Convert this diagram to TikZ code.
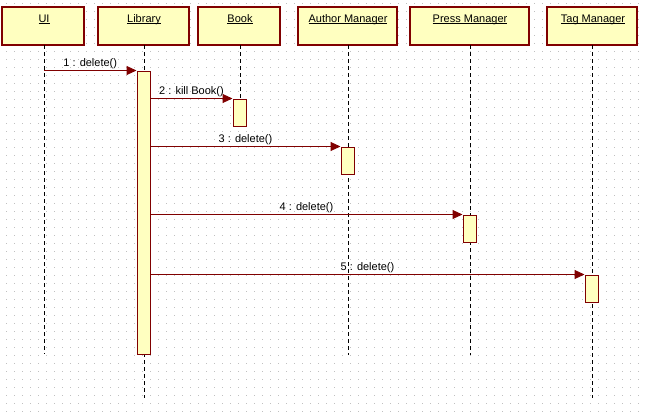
\documentclass[tikz,border=0pt]{standalone}
\usepackage{fontspec}
\setmainfont{Liberation Sans}
\usetikzlibrary{arrows.meta}
\definecolor{umlred}{HTML}{800000}
\definecolor{umlfill}{HTML}{FFFFC0}
\definecolor{griddot}{HTML}{C0C0C0}
% underline at a fixed depth, crossing descenders
\newcommand{\ulname}[1]{\setbox0\hbox{#1}\rlap{\rule[-2pt]{\wd0}{1pt}}\box0}
\begin{document}
\begin{tikzpicture}[x=1pt,y=-1pt,
  font=\fontsize{11}{13}\selectfont,
  objbox/.style={draw=umlred,fill=umlfill,line width=1.3pt,rectangle,inner sep=0pt,minimum height=38pt},
  objlabel/.style={anchor=base,inner sep=0pt},
  lifeline/.style={black,line width=1pt,dash pattern=on 4pt off 3pt},
  act/.style={draw=umlred,fill=umlfill,line width=1pt,rectangle,inner sep=0pt,minimum width=13pt},
  msg/.style={umlred,line width=1pt,-{Triangle[length=10pt,width=9pt]}},
  msglabel/.style={midway,above,inner sep=1.5pt,text=black}]
\useasboundingbox (0,0) rectangle (645,415);
\fill[white] (0,0) rectangle (645,415);
% dotted background grid
\foreach \gx in {6,14,...,640}{
  \foreach \gy in {3,11,...,411}{
    \fill[griddot] (\gx,\gy) rectangle +(1,1);
  }
}
% objects
\node[objbox,minimum width=82pt] (ui) at (43,26) {};
\node[objbox,minimum width=91pt] (lib) at (143.5,26) {};
\node[objbox,minimum width=82pt] (book) at (239,26) {};
\node[objbox,minimum width=99pt] (author) at (347.5,26) {};
\node[objbox,minimum width=119pt] (press) at (469.5,26) {};
\node[objbox,minimum width=90pt] (tag) at (592,26) {};
\node[objlabel] (uit) at (44,22) {\ulname{UI}};
\node[objlabel] (libt) at (144,22) {\ulname{Library}};
\node[objlabel] (bookt) at (240,22) {\ulname{Book}};
\node[objlabel] (authort) at (348,22) {\ulname{Author Manager}};
\node[objlabel] (presst) at (470,22) {\ulname{Press Manager}};
\node[objlabel] (tagt) at (593,22) {\ulname{Tag Manager}};
% lifeline ends
\coordinate (uiend) at (44,354);
\coordinate (libend) at (144,398);
\coordinate (bookend) at (240,126);
\coordinate (authorend) at (348,355);
\coordinate (pressend) at (470,355);
\coordinate (tagend) at (592,398);
\draw[lifeline] (44,45) -- (uiend);
\draw[lifeline] (144,45) -- (libend);
\draw[lifeline] (240,45) -- (bookend);
\draw[lifeline] (348,45) -- (authorend);
\draw[lifeline] (470,45) -- (pressend);
\draw[lifeline] (592,45) -- (tagend);
% activations
\node[act,minimum height=283pt] (libact) at (143.5,212.5) {};
\node[act,minimum height=27pt] (bookact) at (239.5,112.5) {};
\node[act,minimum height=27pt] (authoract) at (347.5,160.5) {};
\node[act,minimum height=27pt] (pressact) at (469.5,228.5) {};
\node[act,minimum height=27pt] (tagact) at (591.5,288.5) {};
% messages
\draw[msg] (uiend |- libact.north) -- node[msglabel]{1 : delete()} (libact.north west);
\draw[msg] (libact.east |- bookact.north) -- node[msglabel]{2 : kill Book()} (bookact.north west);
\draw[msg] (libact.east |- authoract.north) -- node[msglabel]{3 : delete()} (authoract.north west);
\draw[msg] (libact.east |- pressact.north) -- node[msglabel]{4 : delete()} (pressact.north west);
\draw[msg] (libact.east |- tagact.north) -- node[msglabel]{5 : delete()} (tagact.north west);
\end{tikzpicture}
\end{document}
